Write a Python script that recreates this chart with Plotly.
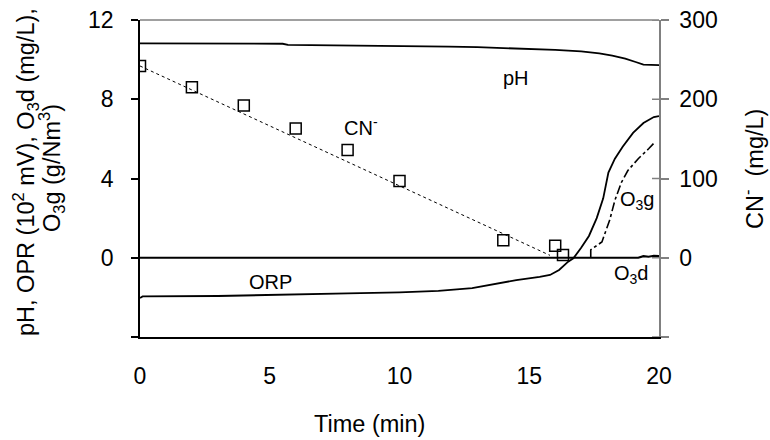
import plotly.graph_objects as go

# ---------------- data ----------------
ph_time = [0, 0.2, 5.5, 5.7, 8.0, 11.9, 13.0, 14.0, 15.0, 16.0, 17.0, 17.7, 18.2, 18.7, 19.1, 19.4, 20.0]
ph_val = [10.82, 10.82, 10.8, 10.74, 10.72, 10.66, 10.63, 10.59, 10.54, 10.49, 10.42, 10.32, 10.2, 10.05, 9.88, 9.75, 9.72]

orp_time = [0, 0.1, 3.0, 5.5, 8.0, 10.0, 11.5, 12.8, 14.1, 14.5, 15.4, 15.8, 16.15, 16.5, 16.7, 17.0, 17.3,
            17.6, 17.85, 18.05, 18.3, 18.6, 19.0, 19.4, 19.8, 20.0]
orp_val = [-2.03, -1.95, -1.93, -1.85, -1.8, -1.75, -1.67, -1.53, -1.21, -1.13, -0.96, -0.87, -0.62, -0.2, -0.03,
           0.5, 1.1, 2.0, 3.0, 4.3, 5.0, 5.6, 6.3, 6.8, 7.1, 7.15]

o3g_time = [17.37, 17.37, 17.8, 18.1, 18.3, 18.55, 18.8, 19.2, 19.6, 19.85]
o3g_val = [0.0, 0.4, 0.8, 1.9, 2.9, 3.8, 4.4, 5.0, 5.5, 5.85]

o3d_time = [0, 19.2, 19.4, 19.6, 19.8, 20.0]
o3d_val = [0.0, 0.0, 0.08, 0.05, 0.1, 0.08]

cn_time = [0, 2, 4, 6, 8, 10, 14, 16, 16.3]
cn_val = [242, 215, 192, 163, 136, 97, 22, 15, 3.5]

cn_trend_time = [0, 15.8]
cn_trend_val = [242, 3]

x_ticks = [0, 5, 10, 15, 20]
x_tick_marks = [5, 10, 15]
y_ticks = [-4, 0, 4, 8, 12]
y_tick_labels = ["", "0", "4", "8", "12"]
y2_ticks = [-100, 0, 100, 200, 300]
y2_tick_labels = ["", "0", "100", "200", "300"]

FONT = "Arial, Liberation Sans, sans-serif"
GRAY = "#808080"

fig = go.Figure()

fig.add_trace(go.Scatter(x=ph_time, y=ph_val, mode="lines", line=dict(color="black", width=1.8),
                         showlegend=False, hoverinfo="skip"))
fig.add_trace(go.Scatter(x=orp_time, y=orp_val, mode="lines", line=dict(color="black", width=1.8),
                         showlegend=False, hoverinfo="skip"))
fig.add_trace(go.Scatter(x=o3d_time, y=o3d_val, mode="lines", line=dict(color="black", width=2.2),
                         showlegend=False, hoverinfo="skip"))
fig.add_trace(go.Scatter(x=o3g_time, y=o3g_val, mode="lines", line=dict(color="black", width=1.6, dash="dashdot"),
                         showlegend=False, hoverinfo="skip"))
fig.add_trace(go.Scatter(x=cn_trend_time, y=cn_trend_val, yaxis="y2", mode="lines",
                         line=dict(color="black", width=1, dash="dot"), showlegend=False, hoverinfo="skip"))
fig.add_trace(go.Scatter(x=cn_time, y=cn_val, yaxis="y2", mode="markers",
                         marker=dict(symbol="square-open", size=11, color="black", line=dict(width=1.5)),
                         showlegend=False, hoverinfo="skip"))

shapes = []
# top border (gray)
shapes.append(dict(type="line", xref="paper", yref="paper", x0=0, x1=1, y0=1, y1=1,
                   line=dict(color=GRAY, width=1.5)))
# bottom x tick marks
for t in x_tick_marks:
    shapes.append(dict(type="line", xref="x", yref="y", ysizemode="pixel", yanchor=-4, x0=t, x1=t, y0=0, y1=-10,
                       line=dict(color="black", width=1)))
# inside half of the crossing ticks on the right axis
for v in y2_ticks:
    shapes.append(dict(type="line", xref="paper", yref="y2", xsizemode="pixel", xanchor=1, x0=-7, x1=0, y0=v, y1=v,
                       line=dict(color=GRAY, width=1.5)))

fig.update_layout(
    width=770, height=440,
    margin=dict(l=140, r=111, t=20, b=103, autoexpand=False),
    plot_bgcolor="white", paper_bgcolor="white",
    font=dict(family=FONT, color="black", size=23),
    shapes=shapes,
    xaxis=dict(range=[0, 20], tickvals=x_ticks, ticks="", showline=True, linecolor="black", linewidth=1.5,
               showgrid=False, zeroline=False, ticklabelstandoff=18, automargin=False),
    yaxis=dict(range=[-4, 12], tickvals=y_ticks, ticktext=y_tick_labels, ticks="outside", ticklen=7,
               tickcolor="black", tickwidth=1.5, showline=True, linecolor="black", linewidth=1.5,
               showgrid=False, zeroline=False, ticklabelstandoff=13, automargin=False),
    yaxis2=dict(range=[-100, 300], tickvals=y2_ticks, ticktext=y2_tick_labels, ticks="outside", ticklen=8,
                tickcolor=GRAY, tickwidth=1.5, showline=True, linecolor=GRAY, linewidth=1.5,
                showgrid=False, zeroline=False, overlaying="y", side="right", anchor="x",
                ticklabelstandoff=6, automargin=False),
)

# pixel -> paper helper for titles placed outside the plot area
px_w = 659 - 140
px_h = 337 - 20
def px_to_paper(px, py):
    return (px - 140) / px_w, (337 - py) / px_h

def title_ann(px, py, text, angle):
    x, y = px_to_paper(px, py)
    fig.add_annotation(x=x, y=y, xref="paper", yref="paper", xanchor="center", yanchor="middle",
                       textangle=angle, showarrow=False, text=text, font=dict(size=23.5))

title_ann(25, 172, "pH, OPR (10<sup>2</sup> mV), O<sub>3</sub>d (mg/L),", -90)
title_ann(51, 168, "O<sub>3</sub>g (g/Nm<sup>3</sup>)", -90)
title_ann(753, 169, "CN<sup>-</sup>  (mg/L)", -90)
title_ann(369, 424, "Time (min)", 0)

# series labels inside the plot (data coordinates)
labels = [
    (14.5, 9.07, "pH"),
    (8.5, 6.6, "CN<sup>-</sup>"),
    (5.04, -1.23, "ORP"),
    (19.15, 2.9, "O<sub>3</sub>g"),
    (18.92, -0.82, "O<sub>3</sub>d"),
]
for lx, ly, lt in labels:
    fig.add_annotation(x=lx, y=ly, xref="x", yref="y", xanchor="center", yanchor="middle",
                       text=lt, showarrow=False, font=dict(size=20))

fig.write_html("out.html", config={"displayModeBar": False},
               post_script="document.body.style.margin='0';")
